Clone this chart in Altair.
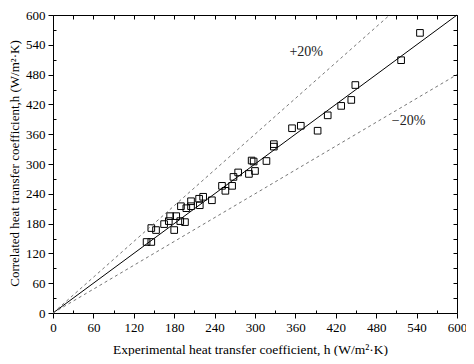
import altair as alt
import pandas as pd

# Data
exp_h = [139, 146, 146, 153, 165, 172, 174, 180, 183, 189, 196, 190, 198, 205, 205, 218, 217, 223, 236, 251,
         256, 266, 268, 275, 291, 300, 295, 298, 317, 328, 328, 355, 368, 393, 408, 428, 443, 449, 517, 545]
cor_h = [143, 143, 171, 167, 179, 185, 195, 167, 195, 185, 183, 215, 211, 225, 215, 217, 230, 234, 227, 256,
         246, 256, 274, 283, 280, 286, 307, 305, 306, 340, 335, 372, 377, 367, 398, 417, 429, 459, 509, 564]

line_names = ["y=x", "+20%", "-20%"]
line_x_end = [600, 500, 600]
line_y_end = [600, 600, 480]

label_text = ["+20%", "\u221220%"]
label_x = [376, 528]
label_y = [525, 387]

major_ticks = list(range(0, 601, 60))
minor_ticks = list(range(30, 600, 60))
all_ticks = list(range(0, 601, 30))

x_title = "Experimental heat transfer coefficient, h (W/m\u00b2\u00b7K)"
y_title = "Correlated heat transfer coefficient,h (W/m\u00b2\u00b7K)"

FONT = "Liberation Serif"

df_pts = pd.DataFrame({"exp": exp_h, "cor": cor_h})
rows = []
for n, xe, ye in zip(line_names, line_x_end, line_y_end):
    rows.append({"name": n, "x": 0, "y": 0, "o": 0})
    rows.append({"name": n, "x": xe, "y": ye, "o": 1})
df_lines = pd.DataFrame(rows)
df_lab = pd.DataFrame({"t": label_text, "x": label_x, "y": label_y})

xs = alt.Scale(domain=[0, 600], nice=False, zero=False)
ys = alt.Scale(domain=[0, 600], nice=False, zero=False)

common_axis = dict(grid=False, domain=False, tickColor="black", labelColor="black",
                   titleColor="black", labelFont=FONT, titleFont=FONT, tickWidth=1)

pts = alt.Chart(df_pts).mark_point(shape="square", filled=False, color="black",
                                   size=44, strokeWidth=1, opacity=1).encode(
    x=alt.X("exp:Q", scale=xs, axis=alt.Axis(
        orient="bottom", values=major_ticks, tickSize=5, labelPadding=3, labelFontSize=13,
        labelFlush=False, labelOverlap=False,
        title=x_title, titleFontSize=13.5, titleFontWeight="normal",
        titleX=197, titleY=36, titleBaseline="middle", titleAlign="center", **common_axis)),
    y=alt.Y("cor:Q", scale=ys, axis=alt.Axis(
        orient="left", values=major_ticks, tickSize=5, labelPadding=3, labelFontSize=13,
        labelFlush=False, labelOverlap=False,
        title=y_title, titleFontSize=13, titleFontWeight="normal",
        titleX=-39, titleY=148, titleAngle=270, titleBaseline="middle", titleAlign="center",
        **common_axis)),
)

solid = alt.Chart(df_lines).transform_filter(alt.datum.name == "y=x").mark_line(
    color="black", strokeWidth=1).encode(
    x=alt.X("x:Q", scale=xs, axis=alt.Axis(
        orient="top", values=all_ticks, tickSize=4, offset=-4, labels=False, title=None,
        **common_axis)),
    y=alt.Y("y:Q", scale=ys, axis=alt.Axis(
        orient="right", values=all_ticks, tickSize=4, offset=-4, labels=False, title=None,
        **common_axis)),
    order="o:Q",
)

dashed = alt.Chart(df_lines).transform_filter(alt.datum.name != "y=x").mark_line(
    color="#666666", strokeWidth=0.9, strokeDash=[3, 3]).encode(
    x=alt.X("x:Q", scale=xs, axis=alt.Axis(
        orient="bottom", values=minor_ticks, tickSize=3, offset=-3, labels=False, title=None,
        **common_axis)),
    y=alt.Y("y:Q", scale=ys, axis=alt.Axis(
        orient="left", values=minor_ticks, tickSize=3, offset=-3, labels=False, title=None,
        **common_axis)),
    detail="name:N",
    order="o:Q",
)

labels = alt.Chart(df_lab).mark_text(font=FONT, fontSize=14, color="#222222").encode(
    x=alt.X("x:Q", scale=xs, axis=None),
    y=alt.Y("y:Q", scale=ys, axis=None),
    text="t:N",
)

chart = alt.layer(pts, solid, dashed, labels).resolve_axis(x="independent", y="independent").properties(
    width=404, height=298,
    autosize=alt.AutoSizeParams(type="none"),
    padding={"left": 45, "top": 7, "right": 9, "bottom": 43},
    background="white",
).configure_view(stroke="black", strokeWidth=1)

chart.save("out.html", embed_options={"renderer": "svg", "actions": False})
